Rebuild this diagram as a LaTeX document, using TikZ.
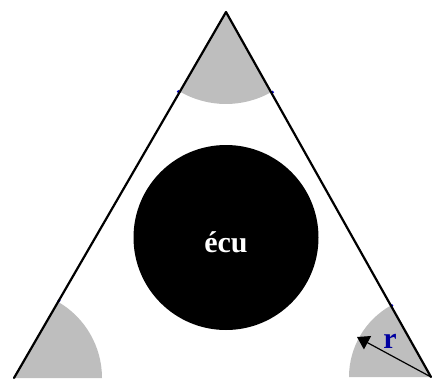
\documentclass[tikz,border=0pt]{standalone}
\usepackage{fontspec}
\setmainfont{Liberation Serif}
\usetikzlibrary{arrows.meta,calc}
\definecolor{sectorgray}{RGB}{190,190,190}
\definecolor{markblue}{RGB}{0,0,200}
\definecolor{rblue}{RGB}{0,0,160}
\tikzset{
  side/.style={line width=2.2pt, line cap=round, line join=round},
  sector/.style={fill=sectorgray, draw=none},
  bluemark/.style={fill=markblue, draw=none},
  radius arrow/.style={line width=1.2pt, -{Triangle[length=12pt,width=15pt]}},
  bigtext/.style={font=\fontsize{30}{32}\selectfont\bfseries, inner sep=0pt},
}
\begin{document}
\begin{tikzpicture}[x=1pt,y=-1pt]
\useasboundingbox (0,0) rectangle (434,378);
\coordinate (A) at (226,12);
\coordinate (L) at (14,378);
\coordinate (R) at (431,377);
\coordinate (tip) at (357,337);
% sectors (angles measured with y pointing down)
\fill[sector] (A) -- ++(60.7:92) arc[start angle=60.7, end angle=120.1, radius=92] -- cycle;
\fill[sector] (L) -- ++(0:88) arc[start angle=0, end angle=-60, radius=88] -- cycle;
\fill[sector] (R) -- ++(180:82) arc[start angle=180, end angle=240.7, radius=82] -- cycle;
% blue marks at arc ends
\fill[bluemark] ($(A)+(60.7:92)+(1.5,0)$) circle (1.6);
\fill[bluemark] ($(A)+(120.1:92)+(-1.5,0)$) circle (1.6);
\fill[bluemark] ($(L)+(-60:88)+(1,-1)$) circle (1.6);
\fill[bluemark] ($(R)+(240.7:82)+(1,0)$) circle (1.6);
% triangle sides
\draw[side] (L) -- (A) -- (R);
% coin
\node[circle, fill=black, minimum size=185pt, inner sep=0pt] (coin) at (226,237.5) {};
\node[bigtext, text=white, anchor=base] (ecu) at (226,252) {écu};
% radius arrow
\draw[radius arrow] (R) -- (tip);
\node[bigtext, text=rblue, anchor=base] (r) at (390,348) {r};
\end{tikzpicture}
\end{document}
